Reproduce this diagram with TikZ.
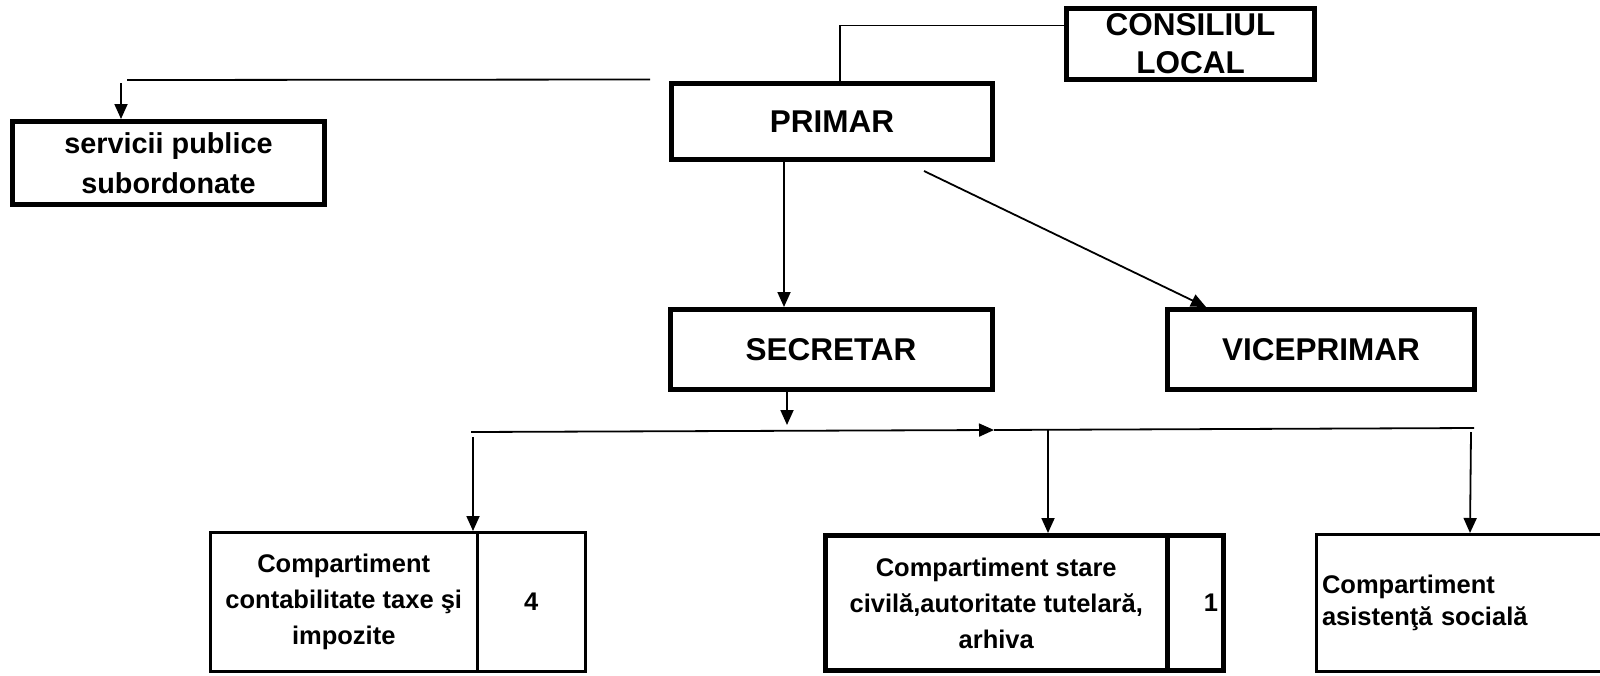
\documentclass[tikz,border=0pt]{standalone}
\usepackage{fontspec}
\setmainfont{Liberation Sans}
\usetikzlibrary{arrows.meta}
\begin{document}
\begin{tikzpicture}[x=1pt,y=-1pt,
  thickbox/.style={draw, line width=5pt, inner sep=0pt, align=center,
    font=\bfseries\fontsize{31.5}{38}\selectfont},
  thinbox/.style={draw, line width=3pt, inner sep=0pt, align=center,
    font=\bfseries\fontsize{25.5}{36}\selectfont},
  cellbox/.style={draw, line width=5pt, inner sep=0pt, align=center,
    font=\bfseries\fontsize{25.5}{36}\selectfont},
  conn/.style={line width=1.8pt},
  arr/.style={line width=1.8pt, -{Triangle[length=15pt,width=13pt]}}]
\useasboundingbox (0,0) rectangle (1600,675);

% top level
\node[thickbox, minimum width=248pt, minimum height=71pt] (cl) at (1190.5,44) {CONSILIUL\\LOCAL};
\node[thickbox, minimum width=321pt, minimum height=76pt] (primar) at (832,121.5) {PRIMAR};
\node[thickbox, minimum width=312pt, minimum height=83pt,
  font=\bfseries\fontsize{28.8}{40}\selectfont] (serv) at (168.5,163) {servicii publice\\subordonate};
\node[thickbox, minimum width=322pt, minimum height=80pt] (sec) at (831,349.5) {SECRETAR};
\node[thickbox, minimum width=307pt, minimum height=80pt] (vice) at (1321,349.5) {VICEPRIMAR};

% bottom level
\node[thinbox, minimum width=266.5pt, minimum height=139pt] (c1) at (343.75,602) {Compartiment\\contabilitate taxe şi\\impozite};
\node[thinbox, minimum width=108.5pt, minimum height=139pt] (c1n) at (531.25,602) {4};
\node[cellbox, minimum width=341.5pt, minimum height=135pt] (c2) at (996.25,603) {Compartiment stare\\civilă,autoritate tutelară,\\arhiva};
\node[cellbox, minimum width=56.5pt, minimum height=135pt, text width=45.5pt, align=right] (c2n) at (1195.25,603) {1};
\node[thinbox, minimum width=303.5pt, minimum height=137pt, text width=292.5pt, align=left,
  font=\bfseries\fontsize{25.5}{32.5}\selectfont] (c3) at (1468.25,603) {Compartiment\\asistenţă socială};

% connectors
\coordinate (k1) at (840,25.5);
\draw[conn] (cl.west |- k1) -- (k1) -- (k1 |- primar.north);

\coordinate (s1) at (650,79.5);
\coordinate (s2) at (127,80);
\draw[conn] (s1) -- (s2);
\coordinate (s3) at (121,83);
\draw[arr] (s3) -- (s3 |- serv.north);

\coordinate (xa) at (784,0);
\draw[arr] (primar.south -| xa) -- (sec.north -| xa);

\coordinate (d0) at (924,171);
\coordinate (d1) at (1206,0);
\draw[arr] (d0) -- (vice.north -| d1);

\coordinate (xb) at (787,425);
\draw[arr] (sec.south -| xb) -- (xb);

\coordinate (hL) at (471,432);
\coordinate (hM) at (994,430);
\coordinate (hR) at (1474,428);
\draw[arr] (hL) -- (hM);
\draw[conn] (hM) -- (hR);

\coordinate (v1) at (473,437);
\draw[arr] (v1) -- (v1 |- c1.north);
\coordinate (v2) at (1048,429);
\draw[arr] (v2) -- (v2 |- c2.north);
\coordinate (v3) at (1471,432);
\coordinate (v3b) at (1470,0);
\draw[arr] (v3) -- (v3b |- c3.north);
\end{tikzpicture}
\end{document}
